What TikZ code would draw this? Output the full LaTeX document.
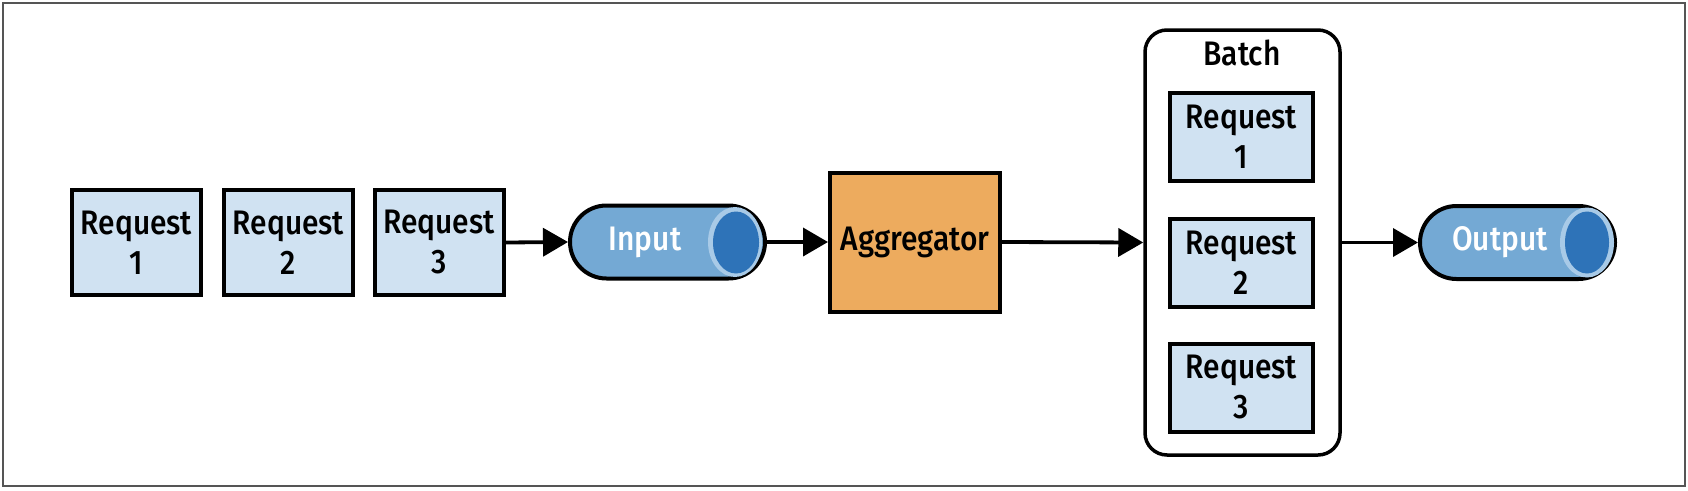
\documentclass[tikz,border=0pt]{standalone}
\usepackage{fontspec}
\setmainfont{Fira Sans}[UprightFont={* Medium}, FakeStretch=0.88]
\usetikzlibrary{arrows.meta}
\definecolor{reqfill}{HTML}{D0E2F2}
\definecolor{aggfill}{HTML}{EDAB5E}
\definecolor{cylbody}{HTML}{74A9D4}
\definecolor{cylring}{HTML}{A8CAE7}
\definecolor{cylcap}{HTML}{2E73B8}
\definecolor{framecol}{HTML}{555555}
\tikzset{
  reqbox/.style={draw=black, line width=4pt, fill=reqfill, minimum width=129pt, minimum height=105pt, inner sep=0pt, align=center, font=\fontsize{34}{40}\selectfont},
  inbox/.style={reqbox, minimum width=143pt, minimum height=88pt},
  aggbox/.style={draw=black, line width=4pt, fill=aggfill, minimum width=170pt, minimum height=139pt, inner sep=0pt, font=\fontsize{34}{40}\selectfont},
  batchbox/.style={draw=black, line width=3.5pt, fill=white, rounded corners=22pt, minimum width=195pt, minimum height=425pt, inner sep=0pt},
  cyl/.style={draw=black, line width=4pt, fill=cylbody, rounded corners=36.5pt, minimum width=195pt, minimum height=73pt, inner sep=0pt},
  cyltext/.style={text=white, font=\fontsize{34}{40}\selectfont, inner sep=0pt},
  lbl/.style={font=\fontsize{34}{40}\selectfont, inner sep=0pt},
  conn/.style={line width=3.8pt, -{Triangle[length=25pt,width=28pt]}},
}
\begin{document}
\begin{tikzpicture}[x=1pt,y=-1pt]
\useasboundingbox (0,0) rectangle (1688,490);
\draw[framecol, line width=1.5pt] (3,3) rectangle (1685,486);

\node[reqbox] (r1) at (136.5,242.5) {Request\\1};
\node[reqbox] (r2) at (288.5,242.5) {Request\\2};
\node[reqbox] (r3) at (439,242.5) {Request\\3};

\node[cyl] (in) at (667.5,242) {};
\fill[cylring] (735,242) ellipse (27 and 35);
\fill[cylcap] (736,242.5) ellipse (23 and 31);
\node[cyltext] (intext) at (645,242) {Input};

\node[aggbox] (agg) at (915,242) {Aggregator};

\node[batchbox] (batch) at (1242.5,242.5) {};
\node[lbl] (blabel) at (1242,53) {Batch};
\node[inbox] (b1) at (1241.5,136.5) {Request\\1};
\node[inbox] (b2) at (1241.5,262.5) {Request\\2};
\node[inbox] (b3) at (1241.5,387.5) {Request\\3};

\node[cyl] (out) at (1517.5,242.5) {};
\fill[cylring] (1587,242.5) ellipse (27 and 35);
\fill[cylcap] (1587,242.5) ellipse (22 and 31);
\node[cyltext] (outtext) at (1500,242.5) {Output};

\draw[conn] (r3.east) -- (in.west);
\draw[conn] (in.east) -- (agg.west);
\draw[conn] (agg.east) -- (batch.west);
\draw[conn] (batch.east) -- (out.west);
\end{tikzpicture}
\end{document}
